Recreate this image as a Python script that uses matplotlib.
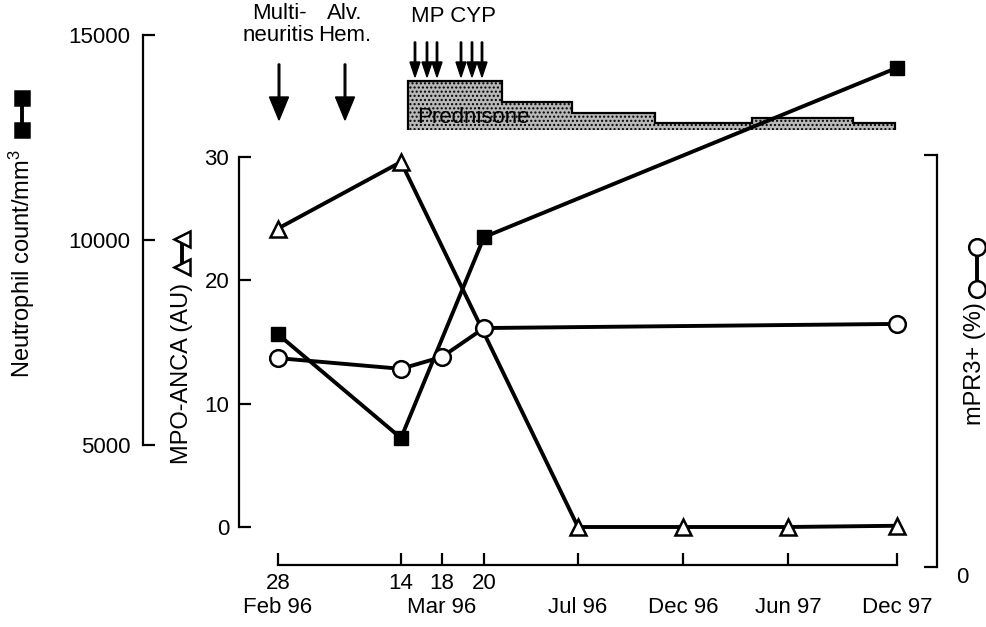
import matplotlib
matplotlib.use("Agg")
import matplotlib.pyplot as plt
from matplotlib.lines import Line2D

plt.rcParams.update({"font.family": ["Liberation Sans", "DejaVu Sans"], "font.size": 16,
                     "mathtext.fontset": "custom", "mathtext.rm": "Liberation Sans",
                     "mathtext.it": "Liberation Sans", "mathtext.bf": "Liberation Sans"})

W, H = 987, 627

# x axis is not linear in time: positions are in "axis units"
tick_pos = [0, 123, 164, 206, 300, 405, 510, 619]
day_lbl = ["28", "14", "18", "20", "", "", "", ""]
month_lbl = ["Feb 96", "", "Mar 96", "", "Jul 96", "Dec 96", "Jun 97", "Dec 97"]

# MPO-ANCA (AU), open triangles
mpo_x = [0, 123, 300, 405, 510, 619]
mpo_y = [24.2, 29.6, 0.0, 0.0, 0.0, 0.1]

# neutrophil count/mm3, filled squares
neu_x = [0, 123, 206, 619]
neu_y = [7700, 5170, 10070, 14200]

# mPR3+ (%), open circles
pr3_x = [0, 123, 164, 206, 619]
pr3_y = [50.7, 48.1, 51.0, 58.0, 59.0]

# prednisone steps (relative dose)
pred_edges = [130, 224, 294, 377, 474, 575, 617]
pred_dose = [49, 28, 17, 7, 12, 7]

# clinical events
events = [("Multi-\nneuritis", 1), ("Alv.\nHem.", 67)]
mp_x = [137, 149, 159]
cyp_x = [183, 194, 204]

LW = 2.8
SP = 1.6


def px_box(x0, y0, x1, y1):
    return [x0 / W, 1 - y1 / H, (x1 - x0) / W, (y1 - y0) / H]


def pts(p):
    return p * 72 / 100


fig = plt.figure(figsize=(W / 100, H / 100), dpi=100)

# ---- top strip: events + prednisone ---------------------------------------
ax_t = fig.add_axes(px_box(278, 0, 897, 130), zorder=1)
ax_t.set_xlim(0, 619); ax_t.set_ylim(0, 130)
ax_t.axis("off")
ax_t.stairs(pred_dose, pred_edges, baseline=0, fill=True, facecolor="#b8b8b8",
            edgecolor="black", lw=1.6, hatch="....")
ax_t.text(139, 7, "Prednisone", ha="left", va="baseline", fontsize=16)
for name, x in events:
    ax_t.text(x, 127, name, ha="center", va="top", linespacing=1.05)
    ax_t.arrow(x, 66, 0, -56, width=1.6, head_width=19, head_length=23,
               length_includes_head=True, color="black", clip_on=False)
ax_t.text(133, 124, "MP CYP", ha="left", va="top")
for x in mp_x + cyp_x:
    ax_t.arrow(x, 88, 0, -35, width=1.4, head_width=10, head_length=15,
               length_includes_head=True, color="black", clip_on=False)

# ---- MPO-ANCA (main) ------------------------------------------------------
ax = fig.add_axes(px_box(278, 157, 897, 527), zorder=2)
ax.set_facecolor("none")
ax.set_xlim(0, 619); ax.set_ylim(0, 30)
for s in ["top", "right"]:
    ax.spines[s].set_visible(False)
ax.spines["left"].set_position(("outward", pts(39)))
ax.spines["bottom"].set_position(("outward", pts(38)))
ax.spines["left"].set_bounds(0, 30)
ax.spines["bottom"].set_bounds(0, 619)
for s in ["left", "bottom"]:
    ax.spines[s].set_linewidth(SP)
ax.set_yticks([0, 10, 20, 30])
ax.set_xticks(tick_pos)
ax.set_xticklabels(day_lbl)
ax.xaxis.remove_overlapping_locs = False
ax.set_xticks(tick_pos, minor=True)
ax.set_xticklabels(month_lbl, minor=True)
ax.tick_params(axis="y", direction="in", length=pts(12), width=SP, pad=7)
ax.tick_params(axis="x", which="major", direction="in", length=pts(12), width=SP, pad=6)
ax.tick_params(axis="x", which="minor", length=0, pad=23)
ax.plot(mpo_x, mpo_y, color="black", lw=LW, marker="^", ms=11, mfc="white",
        mec="black", mew=1.8, clip_on=False)

# ---- neutrophils ----------------------------------------------------------
ax_n = fig.add_axes(px_box(278, 35, 897, 445), zorder=3)
ax_n.set_facecolor("none")
ax_n.set_xlim(0, 619); ax_n.set_ylim(5000, 15000)
for s in ["top", "right", "bottom"]:
    ax_n.spines[s].set_visible(False)
ax_n.spines["left"].set_position(("outward", pts(135)))
ax_n.spines["left"].set_linewidth(SP)
ax_n.set_xticks([])
ax_n.set_yticks([5000, 10000, 15000])
ax_n.tick_params(axis="y", direction="in", length=pts(12), width=SP, pad=9)
ax_n.plot(neu_x, neu_y, color="black", lw=LW, marker="s", ms=10, mfc="black",
          mec="black", clip_on=False)

# ---- mPR3+ ----------------------------------------------------------------
ax_p = fig.add_axes(px_box(278, 155, 897, 567), zorder=4)
ax_p.set_facecolor("none")
ax_p.set_xlim(0, 619); ax_p.set_ylim(0, 100)
for s in ["top", "left", "bottom"]:
    ax_p.spines[s].set_visible(False)
ax_p.spines["right"].set_position(("outward", pts(40)))
ax_p.spines["right"].set_linewidth(SP)
ax_p.set_xticks([])
ax_p.yaxis.tick_right()
ax_p.set_yticks([0, 100])
ax_p.set_yticklabels(["0", ""], va="top")
ax_p.tick_params(axis="y", direction="in", length=pts(13), width=SP, pad=14)
ax_p.plot(pr3_x, pr3_y, color="black", lw=LW, marker="o", ms=12, mfc="white",
          mec="black", mew=1.8, clip_on=False)

# ---- axis titles with their key glyphs -----------------------------------
def fpos(x, y):
    return x / W, 1 - y / H


fig.text(*fpos(22, 264), "Neutrophil count/mm$^3$", rotation=90, ha="center", va="center",
         fontsize=17)
fig.text(*fpos(182, 373), "MPO-ANCA (AU)", rotation=90, ha="center", va="center", fontsize=17)
fig.text(*fpos(975, 364), "mPR3+ (%)", rotation=90, ha="center", va="center", fontsize=17)

keys = [((22, 98), (22, 130), "s", "black", 10),
        ((182, 239), (182, 267), "<", "white", 11),
        ((977, 247), (977, 289), "o", "white", 12)]
for (x0, y0), (x1, y1), m, fc, ms in keys:
    a, b = fpos(x0, y0), fpos(x1, y1)
    fig.add_artist(Line2D([a[0], b[0]], [a[1], b[1]], transform=fig.transFigure,
                          color="black", lw=LW, marker=m, ms=ms, mfc=fc,
                          mec="black", mew=1.8))

fig.savefig("out.png", dpi=100)
